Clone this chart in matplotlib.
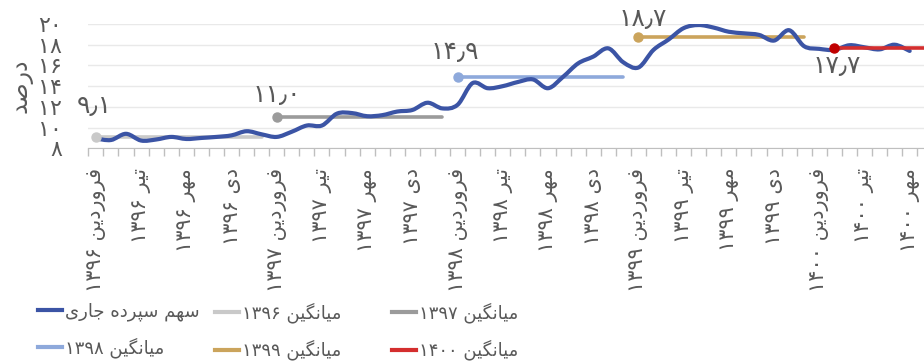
import numpy as np
import matplotlib
matplotlib.use('Agg')
import matplotlib.pyplot as plt
from matplotlib.path import Path
from matplotlib.patches import PathPatch
from matplotlib.lines import Line2D

# monthly share of current deposits (percent), farvardin 1396 .. mehr 1400
share = [8.95, 8.8, 9.4, 8.75, 8.85, 9.1, 8.9, 9.0, 9.1, 9.25, 9.65, 9.35,
         9.1, 9.6, 10.2, 10.2, 11.35, 11.4, 11.1, 11.2, 11.55, 11.7, 12.4, 11.85,
         12.2, 14.3, 13.8, 14.0, 14.4, 14.65, 13.8, 14.9, 16.2, 16.85, 17.65, 16.3,
         15.8, 17.5, 18.5, 19.6, 19.9, 19.65, 19.25, 19.1, 18.95, 18.4, 19.4, 17.85,
         17.6, 17.5, 17.95, 17.75, 17.55, 18.0, 17.4]

# yearly averages
avg_years = ['1396', '1397', '1398', '1399', '1400']
avg_values = [9.1, 11.0, 14.9, 18.7, 17.7]
avg_start = [0, 12, 24, 36, 49]
avg_end = [11, 23, 35, 47, 59]
avg_colors = ['#C9C9C9', '#9B9B9B', '#8EA9DB', '#CBA45C', '#D42E2E']

months = ['فروردین', 'تیر', 'مهر', 'دی']
years = ['1396', '1397', '1398', '1399', '1400']
tick_idx = list(range(0, 55, 3))

FA = str.maketrans('0123456789.', '۰۱۲۳۴۵۶۷۸۹٫')

# isolated, final, initial, medial
FORMS = {
    'ا': ('\uFE8D', '\uFE8E', None, None),
    'د': ('\uFEA9', '\uFEAA', None, None),
    'ر': ('\uFEAD', '\uFEAE', None, None),
    'و': ('\uFEED', '\uFEEE', None, None),
    'ج': ('\uFE9D', '\uFE9E', '\uFE9F', '\uFEA0'),
    'س': ('\uFEB1', '\uFEB2', '\uFEB3', '\uFEB4'),
    'ص': ('\uFEB9', '\uFEBA', '\uFEBB', '\uFEBC'),
    'ف': ('\uFED1', '\uFED2', '\uFED3', '\uFED4'),
    'م': ('\uFEE1', '\uFEE2', '\uFEE3', '\uFEE4'),
    'ن': ('\uFEE5', '\uFEE6', '\uFEE7', '\uFEE8'),
    'ه': ('\uFEE9', '\uFEEA', '\uFEEB', '\uFEEC'),
    'ت': ('\uFE95', '\uFE96', '\uFE97', '\uFE98'),
    'ی': ('\uFBFC', '\uFBFD', '\uFBFE', '\uFBFF'),
    'پ': ('\uFB56', '\uFB57', '\uFB58', '\uFB59'),
    'گ': ('\uFB92', '\uFB93', '\uFB94', '\uFB95'),
}


def shape(word):
    out = []
    for k, ch in enumerate(word):
        f = FORMS.get(ch)
        if f is None:
            out.append(ch)
            continue
        prev = FORMS.get(word[k - 1]) if k > 0 else None
        nxt = FORMS.get(word[k + 1]) if k + 1 < len(word) else None
        jp = prev is not None and prev[2] is not None
        jn = nxt is not None and f[2] is not None
        if jp and jn:
            out.append(f[3])
        elif jp:
            out.append(f[1])
        elif jn:
            out.append(f[2])
        else:
            out.append(f[0])
    return ''.join(out)


def rtl(text):
    text = text.translate(FA)
    vis = []
    for w in text.split(' '):
        if any(ch in FORMS for ch in w):
            vis.append(shape(w)[::-1])
        else:
            vis.append(w)
    return ' '.join(vis[::-1])


def smooth_path(xs, ys):
    # bezier segments through every point (excel style smoothing)
    pts = np.column_stack([xs, ys]).astype(float)
    n = len(pts)
    verts = [pts[0]]
    codes = [Path.MOVETO]
    for i in range(n - 1):
        p0 = pts[i - 1] if i > 0 else pts[i]
        p1, p2 = pts[i], pts[i + 1]
        p3 = pts[i + 2] if i + 2 < n else pts[i + 1]
        verts += [p1 + (p2 - p0) / 6, p2 - (p3 - p1) / 6, p2]
        codes += [Path.CURVE4] * 3
    return Path(verts, codes)


txt = '#595959'
fig = plt.figure(figsize=(9.24, 3.62), dpi=100)
ax = fig.add_axes([0.0956, 0.5903, 0.9044, 0.3434])

x = np.arange(len(share))
blue = '#3B54A5'
ax.add_patch(PathPatch(smooth_path(x, share), fill=False, edgecolor=blue,
                       lw=3, capstyle='round', joinstyle='round', zorder=3))

label_off = [(-1, 22), (0, 16), (-2, 18), (3, 13), (2, -13)]
for yr, v, s, e, c, off in zip(avg_years, avg_values, avg_start, avg_end, avg_colors, label_off):
    z = 4 if yr == '1400' else 2
    ax.plot([s, e], [v, v], color=c, lw=2.6, solid_capstyle='round', zorder=z, clip_on=True)
    ax.plot([s], [v], 'o', color='#C00000' if yr == '1400' else c, ms=6.5, zorder=5, clip_on=False)
    ax.annotate(f'{v:.1f}'.translate(FA), (s, v), xytext=off, textcoords='offset points',
                ha='center', va='center', fontsize=18, color=txt, annotation_clip=False)

ax.set_xlim(-0.5, 54.95)
ax.set_ylim(8, 20)
ax.set_yticks(range(8, 21, 2))
ax.set_yticklabels([str(t).translate(FA) for t in range(8, 21, 2)], fontsize=16, color=txt)
ax.tick_params(axis='y', length=0, pad=19)
ax.grid(axis='y', color='#E9E9E9', lw=1)
ax.set_axisbelow(True)

ax.set_xticks(np.arange(-0.5, 55.5, 1))
ax.set_xticklabels([])
ax.tick_params(axis='x', which='major', length=6, color='#BFBFBF', width=1)
tick_labels = [rtl(f'{months[(i // 3) % 4]} {years[i // 12]}') for i in tick_idx]
ax.set_xticks(tick_idx, minor=True)
ax.set_xticklabels(tick_labels, minor=True, rotation=90, fontsize=15, color=txt, va='top')
ax.tick_params(axis='x', which='minor', length=0, pad=14)

for side in ['top', 'right', 'left']:
    ax.spines[side].set_visible(False)
ax.spines['bottom'].set_color('#BFBFBF')

fig.text(21 / 924, 1 - 86 / 362, rtl('درصد'), rotation=90, ha='center', va='center',
         fontsize=17, color=txt)

h_blue = Line2D([], [], color=blue, lw=3)
h_avg = [Line2D([], [], color=c, lw=3) for c in avg_colors]
lab_blue = rtl('سهم سپرده جاری')
lab_avg = [rtl('میانگین ' + y) for y in avg_years]
columns = [([h_blue, h_avg[2]], [lab_blue, lab_avg[2]]),
           ([h_avg[0], h_avg[3]], [lab_avg[0], lab_avg[3]]),
           ([h_avg[1], h_avg[4]], [lab_avg[1], lab_avg[4]])]
for k, (hs, ls) in enumerate(columns):
    leg = fig.legend(hs, ls, loc='upper left', bbox_to_anchor=((38 + 177 * k) / 924, 1 - 302 / 362),
                     frameon=False, fontsize=13, handlelength=1.35, handletextpad=0.15,
                     labelspacing=0.95, borderaxespad=0, borderpad=0)
    for t in leg.get_texts():
        t.set_color(txt)

fig.savefig('out.png', dpi=100)
